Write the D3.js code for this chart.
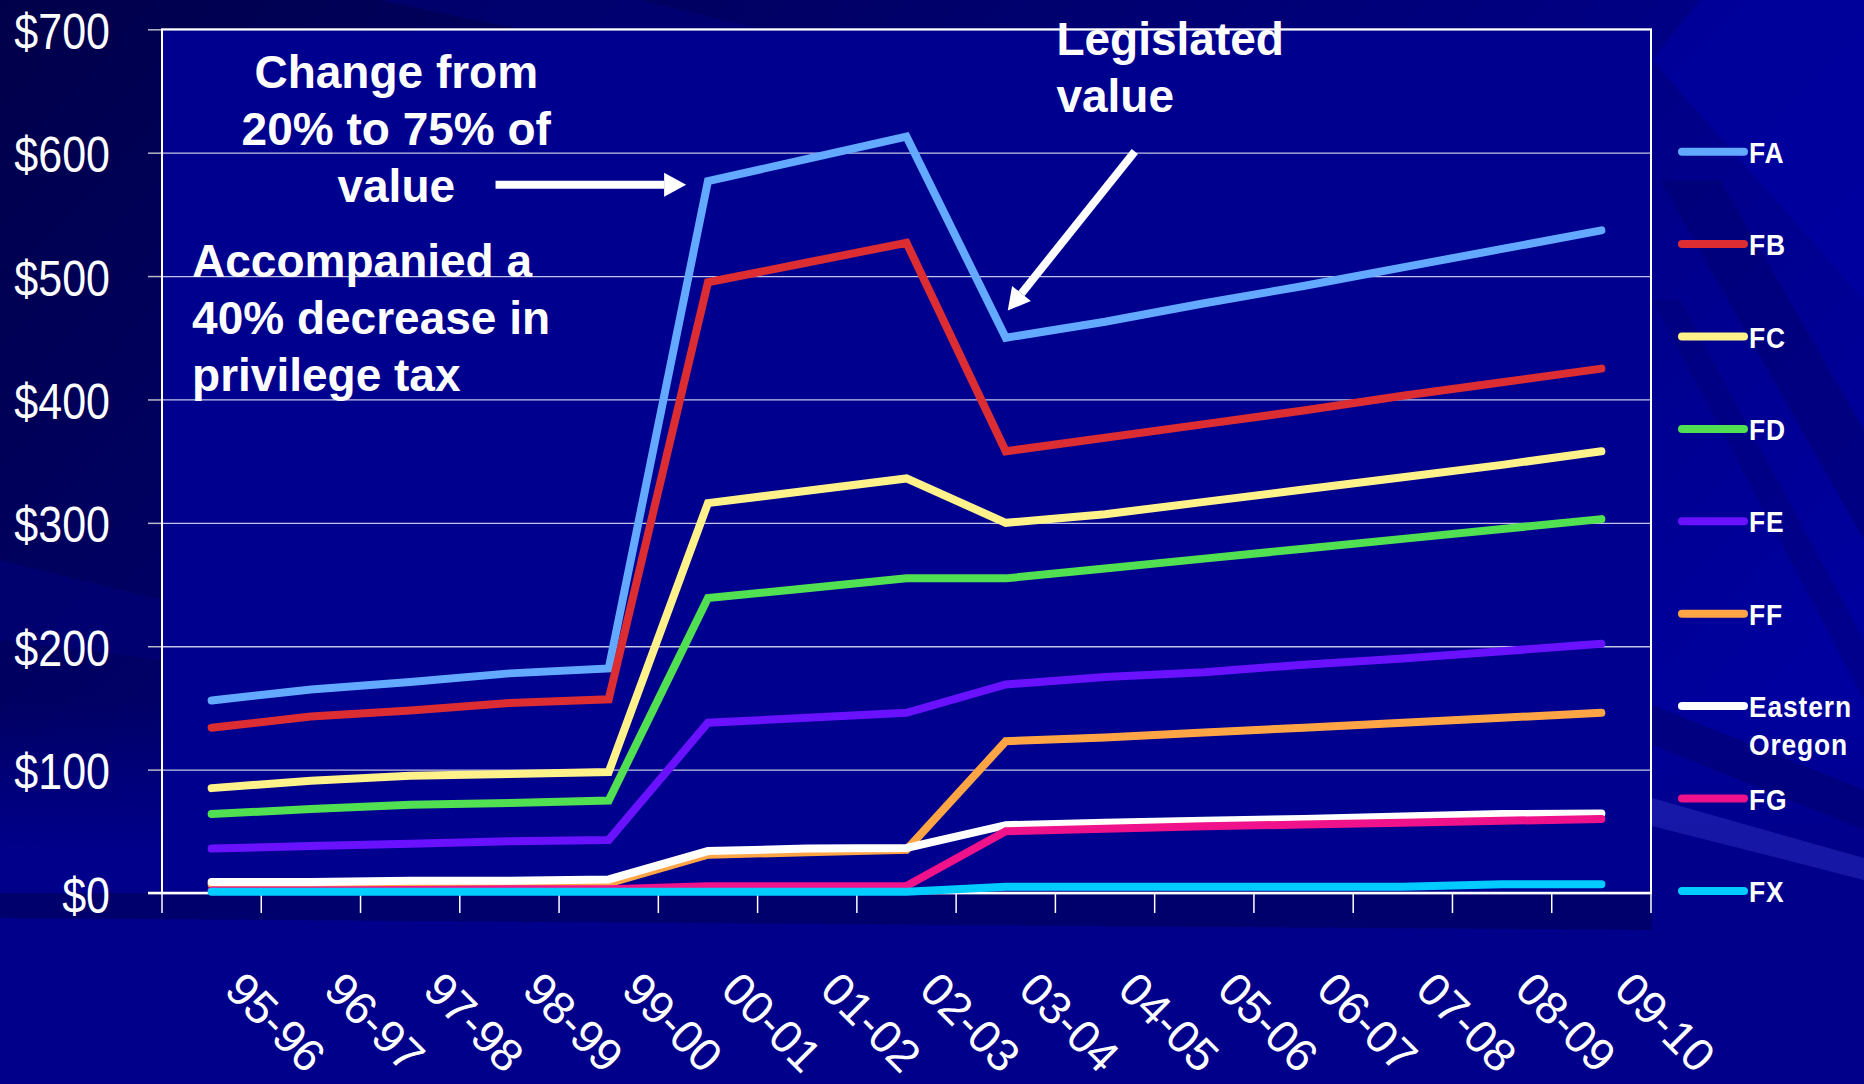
<!DOCTYPE html>
<html lang="en">
<head>
<meta charset="UTF-8">
<title>Privilege tax, 95-96 to 09-10</title>
<script src="https://d3js.org/d3.v7.min.js"></script>
<style>
    html, body { margin: 0; padding: 0; background: #000080; overflow: hidden; }
    svg { display: block; font-family: "Liberation Sans", Arial, sans-serif; }
</style>
</head>
<body>
<svg id="canvas" width="1864" height="1084"></svg>
<script>

    // categories (fiscal years)
    const years = ["95-96","96-97","97-98","98-99","99-00","00-01","01-02","02-03",
                   "03-04","04-05","05-06","06-07","07-08","08-09","09-10"];

    // series values, dollars
    const fa = [156, 165, 171, 178, 182, 577, 595, 613, 450, 463, 478, 492, 507, 522, 537];
    const fb = [134, 143, 148, 154, 157, 495, 511, 527, 358, 369, 380, 391, 403, 414, 425];
    const fc = [85, 91, 95, 96.5, 98, 316, 326, 336, 300, 307, 317, 327, 337, 347, 358];
    const fd = [64, 68, 71.5, 73, 75, 239, 247, 255, 255, 263, 271, 279, 287, 295, 303];
    const fe = [36, 38, 40, 42, 43, 138, 142, 146, 169, 175, 179, 185, 190, 196, 202];
    const ff = [7, 7, 7.5, 7.5, 8, 31, 33, 35, 123, 126, 130, 134, 138, 142, 146];
    const eo = [9, 9, 10, 10, 11, 34, 36, 36.5, 55, 57, 58.5, 60, 62, 64, 64.5];
    const fg = [2, 2, 2.5, 3, 3, 5.5, 5.5, 5.7, 50, 52, 54, 55.5, 57, 58.5, 60];
    const fx = [1, 1, 1, 1, 1, 1, 1, 1, 5, 5, 5, 5, 5, 7, 7];

    const seriesNames = ["FA","FB","FC","FD","FE","FF","Eastern Oregon","FG","FX"];
    const seriesValues = [fa, fb, fc, fd, fe, ff, eo, fg, fx];
    const seriesColors = ["#62a9ff","#dc2d32","#fff28a","#50e052","#6a12ff",
                          "#ffa545","#ffffff","#f0128a","#00ccff"];

    const yTicks = [0, 100, 200, 300, 400, 500, 600, 700];

    // annotations: lines of text, anchors as (category index, value)
    const note1 = ["Change from", "20% to 75% of", "value"];
    const note2 = ["Accompanied a", "40% decrease in", "privilege tax"];
    const note3 = ["Legislated", "value"];
    const arrows = [
        {from: [2.86, 574], to: [4.78, 574]},
        {from: [9.30, 601], to: [8.02, 472]}
    ];

    const svg = d3.select("#canvas");
    const W = 1864, H = 1084;
    const plotL = 162, plotR = 1651, plotT = 29.3, plotB = 893;

    // ---------- background ----------
    const defs = svg.append("defs");
    const bg = defs.append("linearGradient").attr("id","bg")
        .attr("x1",0).attr("y1",0).attr("x2",1).attr("y2",0.55);
    bg.append("stop").attr("offset","0%").attr("stop-color","#00004a");
    bg.append("stop").attr("offset","45%").attr("stop-color","#000070");
    bg.append("stop").attr("offset","100%").attr("stop-color","#00009e");
    const bottomGrad = defs.append("linearGradient").attr("id","bottomGrad")
        .attr("x1",0).attr("y1",0).attr("x2",0).attr("y2",1);
    bottomGrad.append("stop").attr("offset","0%").attr("stop-color","#00008a").attr("stop-opacity",0);
    bottomGrad.append("stop").attr("offset","40%").attr("stop-color","#00008a").attr("stop-opacity",1);

    svg.append("rect").attr("width",W).attr("height",H).attr("fill","url(#bg)");
    svg.append("rect").attr("y",700).attr("width",W).attr("height",H-700).attr("fill","url(#bottomGrad)");

    // diagonal rays
    const rays = [
        {pts: [[1652,60],[1700,0],[1864,0],[1864,300]], fill:"#0000a6", op:0.6},
        {pts: [[1660,180],[1720,180],[1864,430],[1864,540]], fill:"#000070", op:0.55},
        {pts: [[1652,300],[1680,300],[1864,640],[1864,700]], fill:"#000070", op:0.4},
        {pts: [[1652,705],[1864,790],[1864,830],[1652,745]], fill:"#00006a", op:0.5},
        {pts: [[1652,798],[1864,858],[1864,880],[1652,826]], fill:"#3a3acc", op:0.4},
        {pts: [[0,893],[1652,893],[1652,930],[0,918]], fill:"#000068", op:0.9},
        {pts: [[380,0],[640,0],[760,29],[520,29]], fill:"#000080", op:0.5},
        {pts: [[0,560],[162,600],[162,660],[0,640]], fill:"#00007a", op:0.6}
    ];
    svg.append("g").selectAll("polygon").data(rays).join("polygon")
        .attr("points", d => d.pts.map(p => p.join(",")).join(" "))
        .attr("fill", d => d.fill).attr("opacity", d => d.op);

    // ---------- scales ----------
    const x = d3.scaleBand().domain(years).range([plotL, plotR]);
    const y = d3.scaleLinear().domain([0, 700]).range([plotB, plotT]);
    const xc = d => x(d) + x.bandwidth() / 2;
    const xi = d3.scaleLinear().domain([0, years.length - 1])
        .range([xc(years[0]), xc(years[years.length - 1])]);

    // plot area
    svg.append("rect").attr("x",plotL).attr("y",plotT)
        .attr("width",plotR-plotL).attr("height",plotB-plotT).attr("fill","#00008f");

    // gridlines
    svg.append("g").attr("class","grid")
        .attr("transform",`translate(${plotL},0)`)
        .call(d3.axisLeft(y).tickValues(yTicks).tickSize(-(plotR-plotL)).tickFormat(""))
        .call(g => g.select(".domain").remove())
        .call(g => g.selectAll("line").attr("stroke","#c4c4e4").attr("stroke-width",1.3));

    // y axis with $ labels (slightly condensed, like the original)
    const sx = 0.86;
    svg.append("g").attr("class","axis")
        .attr("transform",`translate(${plotL},0)`)
        .call(d3.axisLeft(y).tickValues(yTicks).tickSize(14).tickPadding(38).tickFormat(d => "$" + d))
        .call(g => g.select(".domain").remove())
        .call(g => g.selectAll("line").attr("stroke","#b8b8c8").attr("stroke-width",1.5))
        .call(g => g.selectAll("text").attr("fill","#ffffff").attr("font-size",50)
            .attr("x", -52 / sx).attr("transform", `scale(${sx},1)`)
            .attr("dy","0.38em").attr("font-family",'"Liberation Sans", Arial, sans-serif'));

    // plot border
    svg.append("rect").attr("x",plotL).attr("y",plotT)
        .attr("width",plotR-plotL).attr("height",plotB-plotT)
        .attr("fill","none").attr("stroke","#ffffff").attr("stroke-width",2);

    // x axis
    const xAxis = svg.append("g").attr("class","axis")
        .attr("transform",`translate(0,${plotB})`)
        .call(d3.axisBottom(x).tickSize(0).tickPadding(0))
        .call(g => g.select(".domain").remove())
        .call(g => g.selectAll("text").attr("fill","#ffffff").attr("font-size",46)
            .attr("y",0).attr("dy",0)
            .attr("transform","translate(11,99) rotate(45)")
            .style("text-anchor","start")
            .attr("font-family",'"Liberation Sans", Arial, sans-serif'));
    xAxis.append("line").attr("x1",plotL-14).attr("x2",plotR)
        .attr("stroke","#ffffff").attr("stroke-width",2.5);
    const bounds = years.map(d => x(d)).concat([x.range()[1]]);
    xAxis.selectAll("line.btick").data(bounds).join("line").attr("class","btick")
        .attr("x1", d => d).attr("x2", d => d).attr("y1",0).attr("y2",20)
        .attr("stroke","#ffffff").attr("stroke-width",1.5);

    // ---------- lines ----------
    const line = d3.line().x((d,i) => xc(years[i])).y(d => y(d));
    svg.append("g").selectAll("path").data(seriesValues).join("path")
        .attr("d", line)
        .attr("fill","none")
        .attr("stroke", (d,i) => seriesColors[i])
        .attr("stroke-width",8)
        .attr("stroke-linecap","round")
        .attr("stroke-linejoin","miter");

    // ---------- legend ----------
    const ly = d3.scalePoint().domain(seriesNames).range([151.7, 890.9]);
    const legend = svg.append("g").selectAll("g").data(seriesNames).join("g")
        .attr("transform", d => `translate(1682,${ly(d)})`);
    legend.append("line").attr("x1",0).attr("x2",62)
        .attr("stroke", (d,i) => seriesColors[i]).attr("stroke-width",8)
        .attr("stroke-linecap","round");
    const lsx = 0.88;
    legend.append("text").attr("transform", `translate(67,0) scale(${lsx},1)`)
        .attr("y",11)
        .attr("fill","#ffffff").attr("font-size",30).attr("font-weight","bold")
        .attr("letter-spacing",1)
        .attr("font-family",'"Liberation Sans", Arial, sans-serif')
        .each(function(d) {
            const parts = d.split(" ");
            d3.select(this).selectAll("tspan").data(parts).join("tspan")
                .attr("x",0).attr("dy",(p,j) => j === 0 ? 0 : 38).text(p => p);
        });

    // ---------- annotations ----------
    function note(lines, ix, val, anchor) {
        const t = svg.append("text")
            .attr("x", xi(ix)).attr("y", y(val))
            .attr("fill","#ffffff").attr("font-size",46).attr("font-weight","bold")
            .attr("text-anchor", anchor);
        t.selectAll("tspan").data(lines).join("tspan")
            .attr("x", xi(ix)).attr("dy", (d,i) => i === 0 ? 0 : 57).text(d => d);
    }
    note(note1, 1.86, 652.5, "middle");
    note(note2, -0.197, 499.2, "start");
    note(note3, 8.51, 679, "start");

    arrows.forEach(a => {
        const x0 = xi(a.from[0]), y0 = y(a.from[1]);
        const x1 = xi(a.to[0]), y1 = y(a.to[1]);
        const ang = Math.atan2(y1 - y0, x1 - x0);
        const hl = 22, hw = 12;
        const bx = x1 - hl * Math.cos(ang), by = y1 - hl * Math.sin(ang);
        svg.append("line").attr("x1",x0).attr("y1",y0).attr("x2",bx).attr("y2",by)
            .attr("stroke","#ffffff").attr("stroke-width",8);
        svg.append("polygon")
            .attr("points", [
                [x1, y1],
                [bx + hw * Math.sin(ang), by - hw * Math.cos(ang)],
                [bx - hw * Math.sin(ang), by + hw * Math.cos(ang)]
            ].map(p => p.join(",")).join(" "))
            .attr("fill","#ffffff");
    });

</script>
</body>
</html>
